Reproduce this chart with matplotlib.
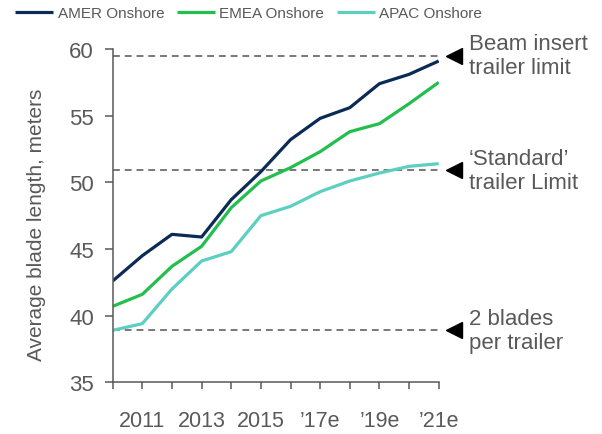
import matplotlib
matplotlib.use("Agg")
import matplotlib.pyplot as plt

plt.rcParams['font.family'] = ['Liberation Sans', 'DejaVu Sans']

years = [2010, 2011, 2012, 2013, 2014, 2015, 2016, 2017, 2018, 2019, 2020, 2021]
tick_labels = ['', '2011', '', '2013', '', '2015', '', '\u201917e', '', '\u201919e', '', '\u201921e']
amer = [42.6, 44.5, 46.1, 45.9, 48.7, 50.8, 53.2, 54.8, 55.6, 57.4, 58.1, 59.1]
emea = [40.7, 41.6, 43.7, 45.2, 48.1, 50.1, 51.1, 52.3, 53.8, 54.4, 55.9, 57.5]
apac = [38.9, 39.4, 42.0, 44.1, 44.8, 47.5, 48.2, 49.3, 50.1, 50.7, 51.2, 51.4]
series_names = ['AMER Onshore', 'EMEA Onshore', 'APAC Onshore']
series_colors = ['#0b2a55', '#22bf4c', '#5dcfc1']
limits = [59.5, 50.9, 38.9]
limit_labels = ['Beam insert\ntrailer limit', '\u2018Standard\u2019\ntrailer Limit', '2 blades\nper trailer']

gray = '#595959'
fig = plt.figure(figsize=(6.02, 4.35), dpi=100)
ax = fig.add_axes([0.1872, 0.1188, 0.7287 - 0.1872, 0.885 - 0.1188])

for vals, name, col in zip([amer, emea, apac], series_names, series_colors):
    ax.plot(years, vals, color=col, lw=2.3, label=name, solid_capstyle='butt')

for lim, lab in zip(limits, limit_labels):
    ax.plot([years[0], years[-1]], [lim, lim], ls=(0, (4.5, 3.2)), color='#555555', lw=1.1, zorder=1)
    ax.plot([2021.52], [lim], marker='<', color='black', markersize=11, clip_on=False)
    ax.text(2022.02, lim, lab, ha='left', va='center', fontsize=16, color=gray,
            linespacing=1.2, clip_on=False)

ax.set_xlim(2010, 2021)
ax.set_ylim(35, 60)
ax.set_xticks(years)
ax.set_xticklabels(tick_labels)
ax.set_yticks([35, 40, 45, 50, 55, 60])

for s in ['top', 'right']:
    ax.spines[s].set_visible(False)
for s in ['left', 'bottom']:
    ax.spines[s].set_color(gray)
    ax.spines[s].set_linewidth(1.1)

ax.tick_params(axis='x', direction='out', length=5, width=1.1, color=gray,
               labelsize=15.5, labelcolor=gray, pad=15)
ax.tick_params(axis='y', direction='out', length=5.5, width=1.1, color=gray,
               labelsize=16, labelcolor=gray, pad=8)

fig.text(37 / 602, 1 - 225 / 435, 'Average blade length, meters', rotation=90,
         ha='center', va='center', fontsize=15, color=gray)

fig.legend(loc='center left', bbox_to_anchor=(0.025, 0.968), ncol=3, frameon=False,
           fontsize=11, handlelength=2.5, handletextpad=0.3, columnspacing=0.8,
           borderpad=0, borderaxespad=0, labelcolor=gray)

fig.savefig('out.png', dpi=100)
